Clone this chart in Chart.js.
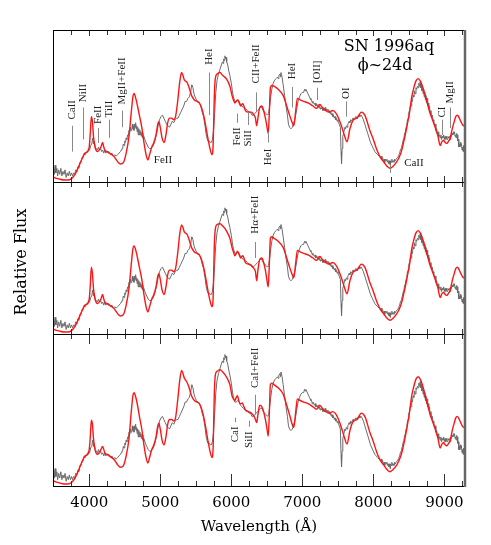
<!DOCTYPE html>
<html><head><meta charset="utf-8">
<script src="https://cdn.jsdelivr.net/npm/chart.js@4.4.1/dist/chart.umd.min.js"></script>
<style>html,body{margin:0;padding:0;background:#fff}canvas{display:block}</style>
</head><body>
<canvas id="c" width="491" height="545"></canvas>
<script>
// ---- data (flux in relative units per panel) ----
const xTickLabels = [4000, 5000, 6000, 7000, 8000, 9000];

const observed = [
[3490,0.06],[3500,0.10],[3510,0.05],[3520,0.11],[3530,0.06],[3545,0.09],[3555,0.04],[3570,0.08],[3585,0.05],[3600,0.09],
[3615,0.04],[3630,0.07],[3645,0.05],[3660,0.08],[3675,0.03],[3690,0.06],[3705,0.04],[3720,0.07],[3735,0.04],[3750,0.06],
[3765,0.04],[3780,0.06],[3795,0.05],[3810,0.08],[3825,0.07],[3840,0.10],[3855,0.09],[3870,0.13],[3885,0.13],[3900,0.16],
[3915,0.16],[3930,0.19],[3945,0.18],[3960,0.20],[3975,0.20],[3990,0.22],[4005,0.21],[4020,0.24],[4035,0.25],[4050,0.29],
[4060,0.25],[4070,0.27],[4085,0.23],[4100,0.22],[4115,0.21],[4130,0.23],[4145,0.21],[4160,0.22],[4175,0.20],[4190,0.21],
[4205,0.19],[4220,0.21],[4235,0.19],[4250,0.20],[4265,0.19],[4280,0.19],[4300,0.18],[4320,0.19],[4340,0.17],[4360,0.18],
[4380,0.17],[4400,0.18],[4420,0.19],[4440,0.20],[4450,0.21],[4460,0.22],[4470,0.22],[4480,0.25],[4490,0.24],[4500,0.27],
[4510,0.26],[4520,0.29],[4530,0.28],[4540,0.31],[4550,0.30],[4560,0.34],[4570,0.33],[4580,0.36],[4590,0.34],[4600,0.35],
[4608,0.38],[4615,0.35],[4623,0.37],[4630,0.34],[4638,0.38],[4645,0.36],[4653,0.39],[4660,0.35],[4668,0.37],[4675,0.33],
[4683,0.36],[4690,0.31],[4698,0.35],[4705,0.31],[4713,0.34],[4720,0.31],[4728,0.33],[4735,0.30],[4745,0.32],[4755,0.29],
[4770,0.30],[4790,0.27],[4810,0.25],[4830,0.23],[4850,0.22],[4870,0.22],[4890,0.23],[4910,0.25],
[4930,0.28],[4950,0.32],[4970,0.37],[4990,0.41],[5010,0.43],[5030,0.44],[5050,0.42],[5070,0.40],[5090,0.38],[5110,0.37],
[5130,0.36],[5150,0.38],[5170,0.40],[5190,0.39],[5210,0.41],[5230,0.42],[5250,0.42],[5270,0.44],[5290,0.46],[5310,0.48],
[5330,0.50],[5350,0.53],[5370,0.53],[5390,0.55],[5410,0.56],[5430,0.60],[5445,0.64],[5460,0.62],[5475,0.58],[5490,0.56],
[5510,0.54],[5530,0.53],[5550,0.52],[5570,0.50],[5590,0.46],[5610,0.43],[5630,0.37],[5650,0.30],[5670,0.27],[5690,0.27],
[5705,0.26],[5720,0.26],[5735,0.28],[5750,0.34],[5765,0.45],[5780,0.58],[5800,0.67],[5820,0.71],[5840,0.74],[5860,0.77],
[5875,0.79],[5885,0.78],[5893,0.81],[5900,0.80],[5910,0.83],[5920,0.81],[5928,0.82],[5935,0.79],[5950,0.77],[5965,0.73],
[5980,0.70],[6000,0.65],[6015,0.60],[6030,0.56],[6050,0.53],[6070,0.53],[6090,0.54],[6110,0.53],[6130,0.51],[6150,0.50],
[6170,0.49],[6190,0.48],[6210,0.48],[6230,0.47],[6250,0.46],[6270,0.46],[6290,0.44],[6310,0.44],[6330,0.45],[6350,0.46],
[6370,0.47],[6390,0.48],[6410,0.49],[6430,0.49],[6450,0.47],[6470,0.46],[6490,0.45],[6510,0.44],[6525,0.45],[6540,0.50],
[6555,0.56],[6570,0.61],[6590,0.65],[6610,0.67],[6630,0.68],[6650,0.69],[6660,0.68],[6670,0.70],[6685,0.71],[6693,0.69],
[6700,0.72],[6715,0.69],[6730,0.64],[6750,0.57],[6770,0.50],[6790,0.44],[6805,0.38],[6820,0.36],[6840,0.35],[6860,0.36],
[6880,0.39],[6900,0.42],[6920,0.48],[6940,0.53],[6960,0.56],[6980,0.58],[7000,0.59],[7020,0.59],[7030,0.61],[7040,0.60],
[7050,0.61],[7060,0.60],[7080,0.58],[7100,0.56],[7110,0.55],[7120,0.54],[7130,0.54],[7140,0.52],[7150,0.53],[7160,0.52],
[7170,0.51],[7180,0.52],[7190,0.50],[7200,0.51],[7210,0.50],[7220,0.51],[7230,0.49],[7240,0.50],[7250,0.48],[7260,0.49],
[7270,0.48],[7280,0.49],[7290,0.47],[7300,0.48],[7310,0.47],[7320,0.49],[7330,0.47],[7340,0.48],[7350,0.47],[7360,0.48],
[7370,0.46],[7380,0.47],[7390,0.45],[7400,0.46],[7410,0.44],[7420,0.45],[7430,0.43],[7440,0.44],[7450,0.42],[7460,0.43],
[7470,0.41],[7480,0.42],[7490,0.40],[7500,0.41],[7510,0.39],[7520,0.38],[7535,0.36],
[7545,0.20],[7552,0.12],[7560,0.22],[7570,0.30],[7585,0.33],[7600,0.36],[7610,0.35],[7620,0.37],[7630,0.36],[7640,0.38],
[7650,0.39],[7660,0.40],[7670,0.39],[7680,0.41],[7690,0.40],[7700,0.41],[7710,0.42],[7720,0.42],[7730,0.41],[7740,0.42],
[7750,0.43],[7760,0.43],[7770,0.42],[7780,0.43],[7790,0.44],[7800,0.44],[7810,0.43],[7820,0.44],[7830,0.44],[7840,0.43],
[7860,0.41],[7880,0.38],[7900,0.35],[7920,0.32],[7940,0.29],[7960,0.26],[7980,0.24],[8000,0.22],[8020,0.20],[8040,0.19],
[8060,0.18],[8080,0.17],[8100,0.16],[8110,0.17],[8120,0.15],[8130,0.16],[8140,0.14],[8150,0.15],[8160,0.13],[8170,0.15],
[8180,0.14],[8190,0.15],[8200,0.13],[8210,0.14],[8220,0.12],[8228,0.14],[8235,0.11],[8242,0.14],[8250,0.13],[8260,0.15],
[8270,0.13],[8280,0.14],[8290,0.13],[8300,0.15],[8310,0.14],[8320,0.15],[8330,0.15],[8340,0.16],[8350,0.17],[8360,0.18],
[8370,0.19],[8380,0.21],[8390,0.22],[8400,0.24],[8410,0.25],[8420,0.28],[8430,0.29],[8440,0.32],[8450,0.33],[8460,0.36],
[8470,0.37],[8480,0.41],[8490,0.42],[8500,0.46],[8510,0.47],[8520,0.50],[8530,0.50],[8540,0.54],[8550,0.53],[8560,0.57],
[8570,0.56],[8580,0.60],[8590,0.58],[8600,0.62],[8610,0.61],[8620,0.63],[8630,0.62],[8640,0.65],[8650,0.63],[8660,0.66],
[8668,0.62],[8676,0.64],[8684,0.60],[8692,0.63],[8700,0.58],[8708,0.61],[8716,0.56],[8724,0.59],[8732,0.54],[8740,0.57],
[8748,0.52],[8756,0.55],[8764,0.50],[8772,0.52],[8780,0.48],[8790,0.50],[8800,0.45],[8810,0.47],[8820,0.43],[8830,0.44],
[8840,0.40],[8850,0.41],[8860,0.37],[8870,0.38],[8880,0.34],[8890,0.35],[8900,0.32],[8910,0.33],[8920,0.30],[8930,0.31],
[8940,0.29],[8950,0.31],[8960,0.28],[8970,0.30],[8980,0.29],[8990,0.31],[9000,0.28],[9010,0.30],[9020,0.28],[9030,0.30],
[9040,0.28],[9050,0.30],[9060,0.29],[9070,0.30],[9080,0.28],[9090,0.31],[9100,0.30],[9110,0.32],[9120,0.31],[9128,0.33],
[9135,0.32],[9143,0.33],[9150,0.30],[9158,0.31],[9165,0.29],[9173,0.32],[9180,0.31],[9188,0.27],[9195,0.28],[9203,0.23],
[9210,0.25],[9218,0.23],[9225,0.26],[9233,0.24],[9240,0.25],[9248,0.21],[9255,0.23],[9263,0.20],[9270,0.24],[9278,0.21],
[9285,0.19]
];

const modelTop = [
[3490,0.035],[3540,0.024],[3590,0.018],[3640,0.013],[3700,0.013],[3750,0.022],[3800,0.05],[3850,0.10],[3900,0.155],[3940,0.19],
[3980,0.20],[4000,0.23],[4015,0.32],[4030,0.43],[4045,0.40],[4060,0.30],[4077,0.24],[4095,0.21],[4115,0.20],[4140,0.21],
[4165,0.23],[4188,0.26],[4205,0.23],[4225,0.205],[4260,0.20],[4300,0.185],[4350,0.167],[4400,0.134],[4440,0.118],[4480,0.127],
[4520,0.19],[4560,0.30],[4590,0.45],[4615,0.56],[4632,0.583],[4650,0.56],[4680,0.50],[4710,0.43],[4740,0.36],[4770,0.26],
[4800,0.18],[4825,0.145],[4850,0.18],[4880,0.23],[4910,0.26],[4940,0.31],[4965,0.38],[4980,0.397],[5000,0.36],[5025,0.29],
[5055,0.26],[5080,0.31],[5105,0.39],[5130,0.42],[5160,0.42],[5190,0.41],[5215,0.43],[5245,0.53],[5275,0.66],[5300,0.72],
[5320,0.70],[5340,0.67],[5370,0.66],[5400,0.63],[5440,0.57],[5480,0.54],[5520,0.53],[5550,0.52],[5580,0.49],[5610,0.44],
[5640,0.37],[5670,0.29],[5700,0.22],[5728,0.18],[5745,0.25],[5760,0.55],[5775,0.68],[5800,0.71],[5840,0.72],[5880,0.70],
[5930,0.68],[5980,0.63],[6010,0.57],[6030,0.54],[6050,0.52],[6070,0.53],[6085,0.54],[6100,0.535],[6120,0.51],[6135,0.50],
[6155,0.515],[6170,0.51],[6200,0.47],[6240,0.46],[6285,0.46],[6320,0.44],[6340,0.42],[6357,0.37],[6375,0.42],[6400,0.49],
[6430,0.50],[6455,0.47],[6480,0.42],[6500,0.37],[6520,0.32],[6535,0.45],[6550,0.62],[6570,0.635],[6600,0.63],[6660,0.61],
[6730,0.57],[6780,0.50],[6820,0.44],[6850,0.40],[6880,0.37],[6905,0.46],[6930,0.55],[6970,0.54],[7020,0.53],[7080,0.52],
[7150,0.50],[7200,0.485],[7245,0.51],[7290,0.485],[7330,0.47],[7370,0.46],[7430,0.47],[7470,0.455],[7510,0.42],[7550,0.37],
[7590,0.31],[7630,0.265],[7670,0.35],[7720,0.41],[7770,0.42],[7830,0.46],[7880,0.44],[7950,0.34],[8000,0.28],[8050,0.21],
[8100,0.16],[8150,0.13],[8200,0.10],[8235,0.09],[8280,0.105],[8330,0.134],[8370,0.17],[8400,0.21],[8440,0.29],[8470,0.36],
[8510,0.46],[8540,0.56],[8570,0.62],[8600,0.665],[8630,0.68],[8660,0.665],[8690,0.63],[8730,0.57],[8770,0.50],[8800,0.45],
[8840,0.40],[8870,0.36],[8910,0.30],[8940,0.24],[8965,0.265],[8990,0.275],[9010,0.26],[9035,0.254],[9060,0.27],[9080,0.285],
[9110,0.35],[9140,0.40],[9160,0.43],[9183,0.44],[9210,0.42],[9240,0.39],[9270,0.37],[9285,0.37]
];

const modelMid = [
[3490,0.035],[3540,0.024],[3590,0.018],[3640,0.013],[3700,0.013],[3750,0.022],[3800,0.05],[3850,0.10],[3900,0.155],[3940,0.19],
[3980,0.20],[4000,0.23],[4015,0.32],[4030,0.44],[4045,0.40],[4060,0.30],[4077,0.24],[4095,0.21],[4115,0.20],[4140,0.21],
[4165,0.23],[4188,0.26],[4205,0.23],[4225,0.205],[4260,0.20],[4300,0.185],[4350,0.167],[4400,0.134],[4440,0.118],[4480,0.127],
[4520,0.19],[4560,0.30],[4590,0.45],[4615,0.56],[4632,0.58],[4650,0.56],[4680,0.50],[4710,0.43],[4740,0.36],[4770,0.26],
[4800,0.18],[4825,0.145],[4850,0.18],[4880,0.23],[4910,0.26],[4940,0.31],[4965,0.38],[4980,0.397],[5000,0.36],[5025,0.29],
[5055,0.26],[5080,0.31],[5105,0.39],[5130,0.42],[5160,0.42],[5190,0.41],[5215,0.43],[5245,0.53],[5275,0.66],[5300,0.717],
[5320,0.70],[5340,0.67],[5370,0.66],[5400,0.63],[5440,0.57],[5480,0.54],[5520,0.53],[5550,0.52],[5580,0.49],[5610,0.44],
[5640,0.37],[5670,0.29],[5700,0.22],[5728,0.18],[5745,0.25],[5760,0.57],[5775,0.69],[5800,0.72],[5840,0.725],[5880,0.71],
[5930,0.68],[5980,0.63],[6010,0.57],[6030,0.54],[6050,0.515],[6070,0.53],[6085,0.545],[6100,0.535],[6120,0.51],[6135,0.50],
[6155,0.515],[6170,0.51],[6200,0.47],[6240,0.46],[6285,0.45],[6320,0.43],[6340,0.41],[6357,0.35],[6375,0.42],[6400,0.49],
[6430,0.50],[6455,0.47],[6480,0.42],[6500,0.36],[6520,0.31],[6535,0.45],[6550,0.63],[6570,0.64],[6600,0.63],[6660,0.61],
[6730,0.57],[6780,0.50],[6820,0.44],[6850,0.40],[6880,0.37],[6905,0.46],[6930,0.55],[6970,0.54],[7020,0.53],[7080,0.52],
[7150,0.50],[7200,0.485],[7245,0.51],[7290,0.485],[7330,0.47],[7370,0.46],[7430,0.47],[7470,0.455],[7510,0.42],[7550,0.37],
[7590,0.31],[7630,0.265],[7670,0.35],[7720,0.41],[7770,0.42],[7830,0.46],[7880,0.44],[7950,0.34],[8000,0.28],[8050,0.21],
[8100,0.16],[8150,0.13],[8200,0.10],[8235,0.09],[8280,0.105],[8330,0.134],[8370,0.17],[8400,0.21],[8440,0.29],[8470,0.36],
[8510,0.46],[8540,0.56],[8570,0.62],[8600,0.665],[8630,0.68],[8660,0.665],[8690,0.63],[8730,0.57],[8770,0.50],[8800,0.45],
[8840,0.40],[8870,0.36],[8910,0.30],[8940,0.24],[8965,0.265],[8990,0.275],[9010,0.26],[9035,0.254],[9060,0.27],[9080,0.285],
[9110,0.35],[9140,0.40],[9160,0.43],[9183,0.44],[9210,0.42],[9240,0.39],[9270,0.37],[9285,0.37]
];

const modelBot = [
[3490,0.035],[3540,0.024],[3590,0.018],[3640,0.013],[3700,0.013],[3750,0.022],[3800,0.05],[3850,0.10],[3900,0.155],[3940,0.19],
[3980,0.20],[4000,0.23],[4015,0.31],[4030,0.415],[4045,0.39],[4060,0.30],[4077,0.24],[4095,0.21],[4115,0.20],[4140,0.21],
[4165,0.23],[4188,0.25],[4205,0.23],[4225,0.205],[4260,0.20],[4300,0.185],[4350,0.167],[4400,0.134],[4440,0.118],[4480,0.127],
[4520,0.19],[4560,0.30],[4590,0.46],[4615,0.57],[4632,0.59],[4650,0.57],[4680,0.51],[4710,0.43],[4740,0.36],[4770,0.26],
[4800,0.18],[4825,0.145],[4850,0.18],[4880,0.23],[4910,0.26],[4940,0.31],[4965,0.38],[4980,0.397],[5000,0.36],[5025,0.29],
[5055,0.26],[5080,0.31],[5105,0.39],[5130,0.42],[5160,0.42],[5190,0.41],[5215,0.43],[5245,0.54],[5275,0.67],[5300,0.73],
[5320,0.71],[5340,0.68],[5370,0.66],[5400,0.63],[5440,0.57],[5480,0.54],[5520,0.53],[5550,0.52],[5580,0.49],[5610,0.44],
[5640,0.37],[5670,0.29],[5700,0.22],[5728,0.18],[5745,0.25],[5760,0.57],[5775,0.70],[5800,0.725],[5840,0.735],[5880,0.72],
[5930,0.69],[5980,0.64],[6010,0.57],[6030,0.55],[6050,0.54],[6070,0.56],[6085,0.57],[6100,0.55],[6120,0.52],[6135,0.52],
[6155,0.525],[6170,0.51],[6200,0.48],[6240,0.47],[6285,0.46],[6320,0.44],[6340,0.42],[6357,0.40],[6375,0.45],[6400,0.51],
[6430,0.50],[6455,0.47],[6480,0.42],[6500,0.37],[6520,0.315],[6535,0.45],[6550,0.64],[6570,0.65],[6600,0.64],[6660,0.62],
[6730,0.58],[6780,0.51],[6820,0.45],[6850,0.40],[6880,0.37],[6905,0.46],[6930,0.55],[6970,0.54],[7020,0.53],[7080,0.52],
[7150,0.50],[7200,0.485],[7245,0.51],[7290,0.485],[7330,0.47],[7370,0.46],[7430,0.47],[7470,0.455],[7510,0.42],[7550,0.37],
[7590,0.31],[7630,0.265],[7670,0.35],[7720,0.41],[7770,0.42],[7830,0.46],[7880,0.44],[7950,0.34],[8000,0.28],[8050,0.21],
[8100,0.16],[8150,0.13],[8200,0.10],[8235,0.09],[8280,0.105],[8330,0.134],[8370,0.17],[8400,0.21],[8440,0.29],[8470,0.36],
[8510,0.47],[8540,0.57],[8570,0.63],[8600,0.675],[8630,0.69],[8660,0.675],[8690,0.64],[8730,0.57],[8770,0.50],[8800,0.45],
[8840,0.40],[8870,0.36],[8910,0.30],[8940,0.24],[8965,0.265],[8990,0.275],[9010,0.26],[9035,0.254],[9060,0.27],[9080,0.285],
[9110,0.35],[9140,0.40],[9160,0.43],[9183,0.44],[9210,0.42],[9240,0.39],[9270,0.37],[9285,0.37]
];

// line identifications: panel, label, wavelength, text span and marker span (fraction of panel height)
const lineIds = [
  {panel:0, label:'CaII',      wave:3764, text:[0.41,0.54], line:[0.20,0.37]},
  {panel:0, label:'NiII',      wave:3915, text:[0.53,0.64], line:[0.28,0.49]},
  {panel:0, label:'FeII',      wave:4118, text:[0.375,0.51], line:[0.257,0.355]},
  {panel:0, label:'TiII',      wave:4273, text:[0.43,0.53], line:[0.29,0.41]},
  {panel:0, label:'MgII+FeII', wave:4456, text:[0.51,0.82], line:[0.36,0.47]},
  {panel:0, label:'FeII',      wave:5038, at:0.145, horizontal:true},
  {panel:0, label:'HeI',       wave:5686, text:[0.77,0.88], line:[0.44,0.72]},
  {panel:0, label:'FeII',      wave:6075, text:[0.24,0.36], line:[0.39,0.45]},
  {panel:0, label:'SiII',      wave:6236, text:[0.22,0.355], line:[0.375,0.46]},
  {panel:0, label:'CII+FeII',  wave:6343, text:[0.625,0.93], line:[0.46,0.59]},
  {panel:0, label:'HeI',       wave:6521, text:[0.11,0.22], line:[0.26,0.33]},
  {panel:0, label:'HeI',       wave:6859, text:[0.68,0.78], line:[0.49,0.625]},
  {panel:0, label:'[OII]',     wave:7202, text:[0.66,0.79], line:[0.54,0.62]},
  {panel:0, label:'OI',        wave:7610, text:[0.55,0.62], line:[0.43,0.53]},
  {panel:0, label:'CaII',      wave:8571, at:0.125, horizontal:true},
  {panel:0, label:'',          wave:8235, line:[0.06,0.11]},
  {panel:0, label:'CI',        wave:8962, text:[0.43,0.49], line:[0.31,0.41]},
  {panel:0, label:'MgII',      wave:9079, text:[0.53,0.65], line:[0.355,0.49]},
  {panel:1, label:'H\u03b1+FeII', wave:6333, text:[0.65,0.92], line:[0.50,0.605]},
  {panel:2, label:'CaI',       wave:6052, text:[0.28,0.40], line:[0.42,0.45]},
  {panel:2, label:'SiII',      wave:6250, text:[0.24,0.37], line:[0.39,0.43]},
  {panel:2, label:'CaI+FeII',  wave:6333, text:[0.645,0.91], line:[0.47,0.60]}
];
const objectName = 'SN 1996aq';
const phaseLabel = '\u03d5~24d';
const xTitle = 'Wavelength (\u00c5)';
const yTitle = 'Relative Flux';

// ---- chart ----
const panelIds = ['yTop', 'yMid', 'yBot'];
const panelMax = [1, 1, 0.96];
const models = [modelTop, modelMid, modelBot];
const toXY = arr => arr.map(p => ({x: p[0], y: p[1]}));

const datasets = [];
panelIds.forEach((id, i) => {
  datasets.push({data: toXY(models[i]), yAxisID: id, borderColor: '#ff1414', borderWidth: 1.4,
    pointRadius: 0, cubicInterpolationMode: 'monotone', order: 0});
  datasets.push({data: toXY(observed), yAxisID: id, borderColor: '#6a6a6a', borderWidth: 1,
    pointRadius: 0, tension: 0, order: 1});
});

const yScale = (i) => ({
  type: 'linear', position: 'left', stack: 'panels', stackWeight: 1, weight: 3 - i,
  min: 0, max: panelMax[i], display: true,
  grid: {display: false, drawTicks: false}, border: {display: false},
  ticks: {display: false}, afterFit: s => { s.width = 0; }
});

const SERIF = '"DejaVu Serif", serif';
const decor = {
  id: 'decor',
  afterDatasetsDraw(chart) {
    const ctx = chart.ctx, x = chart.scales.x;
    const L = Math.round(x.left), R = Math.round(x.right);
    panelIds.forEach((id, i) => {
      const s = chart.scales[id];
      const T = Math.round(s.top), B = Math.round(s.bottom);
      ctx.save();
      ctx.strokeStyle = '#333'; ctx.lineWidth = 1;
      for (let v = 3750; v < x.max; v += 250) {
        const px = Math.round(x.getPixelForValue(v)) + 0.5;
        const major = v % 1000 === 0;
        const topLen = major ? (i === 2 ? 10 : 6) : 5;
        const botLen = major ? (i === 2 ? 12 : 6) : 5;
        ctx.beginPath();
        ctx.moveTo(px, T); ctx.lineTo(px, T + topLen);
        ctx.moveTo(px, B); ctx.lineTo(px, B - botLen);
        ctx.stroke();
      }
      ctx.strokeStyle = '#000';
      ctx.beginPath();
      ctx.moveTo(L + 0.5, T); ctx.lineTo(L + 0.5, B + 0.5);
      ctx.moveTo(L, T + 0.5); ctx.lineTo(R, T + 0.5);
      ctx.moveTo(L, B + 0.5); ctx.lineTo(R, B + 0.5);
      ctx.stroke();
      ctx.strokeStyle = '#666'; ctx.lineWidth = 2.5;
      ctx.beginPath(); ctx.moveTo(R, T); ctx.lineTo(R, B + 1); ctx.stroke();
      ctx.restore();
    });
    // line identifications
    lineIds.forEach(a => {
      const s = chart.scales[panelIds[a.panel]];
      const fy = f => s.bottom - f * (s.bottom - s.top);
      const px = x.getPixelForValue(a.wave);
      ctx.save();
      if (a.line) {
        ctx.strokeStyle = '#888'; ctx.lineWidth = 1;
        ctx.beginPath();
        ctx.moveTo(Math.round(px) + 0.5, fy(a.line[0]));
        ctx.lineTo(Math.round(px) + 0.5, fy(a.line[1]));
        ctx.stroke();
      }
      if (a.label) {
        ctx.fillStyle = '#222';
        ctx.font = '11px "Liberation Serif", serif';
        ctx.textAlign = 'center'; ctx.textBaseline = 'middle';
        if (a.horizontal) {
          ctx.fillText(a.label, px, fy(a.at));
        } else {
          ctx.translate(px, (fy(a.text[0]) + fy(a.text[1])) / 2);
          ctx.rotate(-Math.PI / 2);
          ctx.fillText(a.label, 0, 0);
        }
      }
      ctx.restore();
    });
    // object name and phase
    const sTop = chart.scales.yTop;
    const fyT = f => sTop.bottom - f * (sTop.bottom - sTop.top);
    ctx.save();
    ctx.fillStyle = '#000'; ctx.font = '16px ' + SERIF;
    ctx.textAlign = 'center'; ctx.textBaseline = 'middle';
    ctx.fillText(objectName, x.getPixelForValue(8220), fyT(0.888));
    ctx.fillText(phaseLabel, x.getPixelForValue(8165), fyT(0.763));
    ctx.restore();
  },
  afterDraw(chart) {
    const ctx = chart.ctx, x = chart.scales.x;
    ctx.save();
    ctx.fillStyle = '#000'; ctx.font = '15px ' + SERIF;
    ctx.textAlign = 'center'; ctx.textBaseline = 'middle';
    ctx.fillText(xTitle, (x.left + x.right) / 2, 527);
    ctx.translate(22, 262); ctx.rotate(-Math.PI / 2);
    ctx.font = '16px ' + SERIF;
    ctx.fillText(yTitle, 0, 0);
    ctx.restore();
  }
};

new Chart(document.getElementById('c'), {
  type: 'line',
  data: {datasets},
  options: {
    responsive: false, animation: false, devicePixelRatio: 1, events: [],
    layout: {padding: {left: 53, right: 26, top: 30, bottom: 0}},
    plugins: {legend: {display: false}, tooltip: {enabled: false}},
    scales: {
      x: {
        type: 'linear', position: 'bottom', min: 3490, max: 9290,
        grid: {display: false, drawTicks: false}, border: {display: false},
        afterBuildTicks: s => { s.ticks = xTickLabels.map(v => ({value: v})); },
        ticks: {font: {family: 'DejaVu Serif', size: 15}, color: '#000', padding: 8, maxRotation: 0,
          callback: v => String(v)},
        afterFit: s => { s.height = 59; }
      },
      yTop: yScale(0),
      yMid: yScale(1),
      yBot: yScale(2)
    }
  },
  plugins: [decor]
});
</script>
</body></html>
